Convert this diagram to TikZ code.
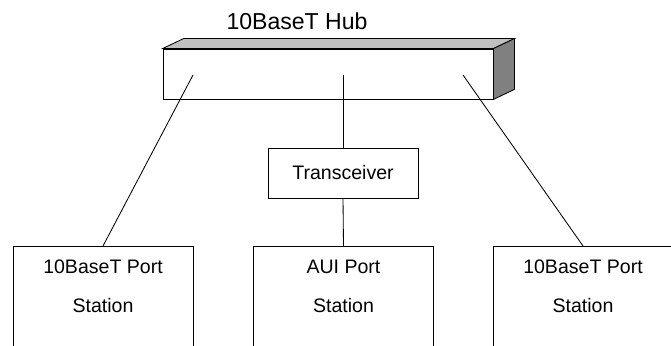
\documentclass[tikz,border=0pt]{standalone}
\usepackage{fontspec}
\setmainfont{Liberation Sans}
\usetikzlibrary{positioning,calc}
\definecolor{hubtop}{RGB}{192,192,192}
\definecolor{hubside}{RGB}{128,128,128}

\begin{document}
\begin{tikzpicture}[
  every node/.style={font=\fontsize{13.9}{16}\selectfont},
  wire/.style={draw=black, line width=0.6pt},
  box/.style={draw=black, line width=0.6pt, fill=white, inner sep=0pt},
  station/.style={box, anchor=north, minimum width=4.5cm, minimum height=4cm}
]
% page frame, station boxes run off the bottom
\clip (0,0) rectangle (16.775,8.625);

% Hub: front face plus top and side faces
\node[box, minimum width=8.25cm, minimum height=1.25cm] (hub) at (8.2,6.775) {};
\filldraw[fill=hubtop, draw=black, line width=0.6pt]
  (hub.north west) -- ++(0.525,0.25) -- ($(hub.north east)+(0.525,0.25)$)
  -- (hub.north east) -- cycle;
\filldraw[fill=hubside, draw=black, line width=0.6pt]
  (hub.north east) -- ++(0.525,0.25) -- ($(hub.south east)+(0.525,0.25)$)
  -- (hub.south east) -- cycle;
\node[font=\fontsize{16.4}{19}\selectfont] (title) at (7.425,8.1) {10BaseT Hub};

% ports on the hub
\coordinate (pleft)  at (4.825,6.75);
\coordinate (pmid)   at (8.575,6.75);
\coordinate (pright) at (11.575,6.75);

\node[box, minimum width=3.75cm, minimum height=1.25cm] (xcvr) at (8.575,4.3) {Transceiver};

% stations
\node[station] (sleft)  at (2.575,2.475) {};
\node[station] (smid)   at (8.5875,2.475) {};
\node[station] (sright) at (14.575,2.475) {};

\foreach \nd/\lbl in {sleft/10BaseT Port, smid/AUI Port, sright/10BaseT Port}{
  \node at ([yshift=-0.525cm]\nd.north) {\lbl};
  \node at ([yshift=-1.5cm]\nd.north) {Station};
}

% cabling
\draw[wire] (pleft) -- (sleft.north);
\draw[wire] (pmid) -- (xcvr.north);
\draw[wire] (xcvr.south) -- (smid.north);
\draw[wire] (pright) -- (sright.north);
\end{tikzpicture}
\end{document}
